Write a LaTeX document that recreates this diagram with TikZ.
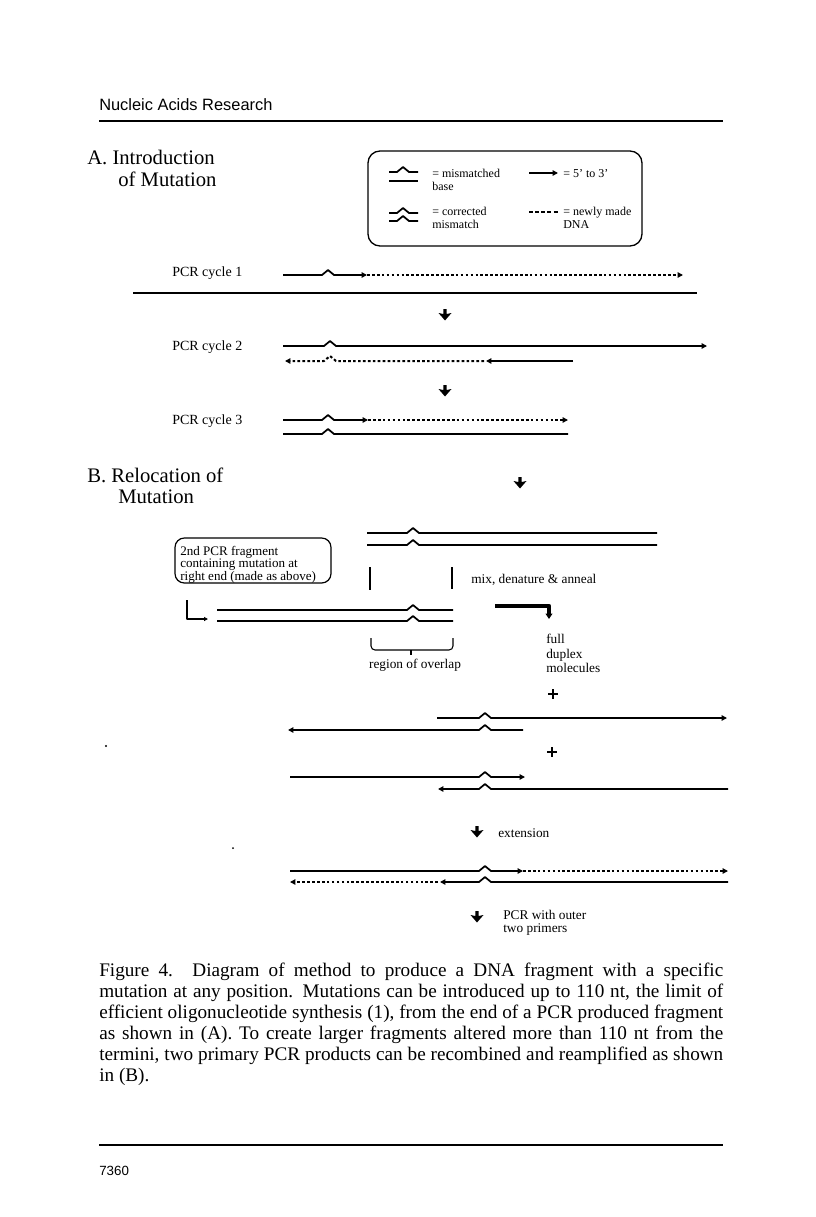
\documentclass[tikz,border=0pt]{standalone}
\usepackage{fontspec}
\setmainfont{Liberation Serif}
\newfontfamily\hsans{Liberation Sans}
\usetikzlibrary{arrows.meta}
\newcommand{\mutR}[5][]{\draw[strand,#1] (#2,#5) -- ({#4-6},#5) -- (#4,{#5-5}) -- ({#4+6},#5) -- (#3,#5);}
\newcommand{\mutL}[5][]{\draw[strand,#1] (#2,#5) -- ({#4+6},#5) -- (#4,{#5-5}) -- ({#4-6},#5) -- (#3,#5);}
\newcommand{\capline}[1]{\makebox[468pt][s]{#1}}
\begin{document}
\begin{tikzpicture}[x=0.75pt,y=-0.75pt,line join=round,
  strand/.style={line width=1.3pt},
  newdna/.style={line width=1.5pt, dash pattern=on 2pt off 1.7pt},
  tip/.style={-{Triangle[length=4pt,width=4pt]}},
  lbl/.style={font=\fontsize{10.5}{12}\selectfont, inner sep=0pt, anchor=base west},
  small/.style={font=\fontsize{10}{12}\selectfont, inner sep=0pt, anchor=base west},
  leg/.style={font=\fontsize{9}{10}\selectfont, inner sep=0pt, anchor=base west},
  head/.style={font=\fontsize{15.5}{17}\selectfont, inner sep=0pt, anchor=base west},
  capl/.style={font=\fontsize{14.4}{15.75}\selectfont, inner sep=0pt, anchor=base west},
  plus/.style={line width=1.6pt},
  dnarrow/.pic={\fill (-1.6,-7) -- (1.6,-7) -- (1.6,-2) -- (6.5,-3) -- (0,4.5) -- (-6.5,-3) -- (-1.6,-2) -- cycle;}
]
\fill[white] (0,0) rectangle (816,1217);
\useasboundingbox (0,0) rectangle (816,1217);

% page header and footer
\node[anchor=base west, inner sep=0pt, font=\hsans\fontsize{12.3}{14}\selectfont] (hdr) at (99,110) {Nucleic Acids Research};
\draw[line width=1.1pt] (99,121) -- (723,121);
\draw[line width=1.1pt] (99,1145) -- (723,1145);
\node[anchor=base west, inner sep=0pt, font=\hsans\fontsize{10}{12}\selectfont] (pg) at (99,1175) {7360};

% section titles
\node[head] (tA1) at (87,164) {A. Introduction};
\node[head] (tA2) at (118,186) {of Mutation};
\node[head] (tB1) at (87,482) {B. Relocation of};
\node[head] (tB2) at (118,503) {Mutation};

% legend
\draw[line width=1pt, rounded corners=9pt] (368,151) rectangle (642,246);
\mutR{389}{418}{403}{172}
\draw[strand] (389,181) -- (418,181);
\node[leg] (l1) at (432,177) {= mismatched};
\node[leg] (l2) at (432,190) {base};
\draw[strand,tip] (529,173) -- (558,173);
\node[leg] (l3) at (563,177) {= 5' to 3'};
\mutR{389}{418}{403}{213}
\mutR{389}{418}{403}{221}
\node[leg] (l4) at (432,215) {= corrected};
\node[leg] (l5) at (432,228) {mismatch};
\draw[line width=1.5pt, dash pattern=on 3pt off 1.6pt] (529,212) -- (558,212);
\node[leg] (l6) at (563,215) {= newly made};
\node[leg] (l7) at (563,228) {DNA};

% PCR cycle 1
\node[lbl] (c1) at (172,276) {PCR cycle 1};
\mutR[tip]{283}{367}{328}{275}
\draw[newdna,tip] (367,275) -- (683,275);
\draw[line width=1.6pt] (133,293) -- (697,293);
\pic at (445,316) {dnarrow};

% PCR cycle 2
\node[lbl] (c2) at (172,350) {PCR cycle 2};
\mutR[tip]{283}{707}{330}{346}
\mutL[newdna,tip]{484}{285}{330}{361}
\draw[strand,tip] (573,361) -- (486,361);
\pic at (445,392) {dnarrow};

% PCR cycle 3
\node[lbl] (c3) at (172,424) {PCR cycle 3};
\mutR[tip]{283}{368}{328}{420}
\draw[newdna,tip] (368,420) -- (568,420);
\mutR{283}{568}{328}{434}

% Section B
\pic at (520,484) {dnarrow};
\mutR{367}{657}{413}{533}
\mutR{367}{657}{413}{545}
\draw[line width=0.9pt, rounded corners=7pt] (175,538) rectangle (331,583);
\node[anchor=north west, inner sep=0pt, align=left, font=\fontsize{9.8}{8.7}\selectfont] (frag) at (180,546) {2nd PCR fragment\\containing mutation at\\right end (made as above)};
\draw[line width=1.1pt] (370,567) -- (370,590);
\draw[line width=1.1pt] (452,567) -- (452,589);
\node[small] (mix) at (471,583) {mix, denature \& anneal};
\draw[line width=0.9pt, -{Triangle[length=3pt,width=3pt]}] (187,600) -- (187,619) -- (208,619);
\mutR{217}{453}{413}{610}
\mutR{217}{453}{413}{621}
\draw[line width=3.2pt, -{Triangle[length=4pt,width=5pt]}] (495,606) -- (549,606) -- (549,619);
\draw[line width=0.8pt] (371,638) -- (371,646) arc[start angle=180, end angle=90, radius=4] -- (449,650) arc[start angle=90, end angle=0, radius=4] -- (453,638);
\draw[line width=0.8pt] (411,650) -- (411,655);
\node[small, anchor=base] (ovl) at (415,668) {region of overlap};
\node[anchor=north west, inner sep=0pt, align=left, font=\fontsize{10}{10.9}\selectfont] (fd) at (546,634) {full\\duplex\\molecules};

\draw[plus] (548,694) -- (558,694) (553,689) -- (553,699);
\node[inner sep=0pt, minimum size=10pt] (p1) at (553,694) {};
\mutR[tip]{437}{727}{485}{718}
\mutL[tip]{523}{288}{485}{730}
\draw[plus] (547,752) -- (557,752) (552,747) -- (552,757);
\node[inner sep=0pt, minimum size=10pt] (p2) at (552,752) {};
\mutR[tip]{290}{525}{485}{777}
\mutL[tip]{728}{438}{485}{789}

\pic at (477,833) {dnarrow};
\node[small] (ext) at (498,837) {extension};
\mutR[tip]{290}{523}{485}{871}
\draw[newdna,tip] (523,871) -- (728,871);
\draw[newdna,tip] (438,882) -- (290,882);
\mutL[tip]{728}{440}{485}{882}
\pic at (477,918) {dnarrow};
\node[anchor=north west, inner sep=0pt, align=left, font=\fontsize{10}{9.8}\selectfont] (pcr) at (503,910) {PCR with outer\\two primers};

% specks
\fill (106,746) circle[radius=1.2];
\fill (233,848) circle[radius=1];

% caption
\node[capl] (cap1) at (99,976) {\capline{Figure 4.  Diagram of method to produce a DNA fragment with a specific}};
\node[capl] (cap2) at (99,997) {\capline{mutation at any position.  Mutations can be introduced up to 110 nt, the limit of}};
\node[capl] (cap3) at (99,1018) {\capline{efficient oligonucleotide synthesis (1), from the end of a PCR produced fragment}};
\node[capl] (cap4) at (99,1039) {\capline{as shown in (A).  To create larger fragments altered more than 110 nt from the}};
\node[capl] (cap5) at (99,1060) {\capline{termini, two primary PCR products can be recombined and reamplified as shown}};
\node[capl] (cap6) at (99,1081) {in (B).};
\end{tikzpicture}
\end{document}
